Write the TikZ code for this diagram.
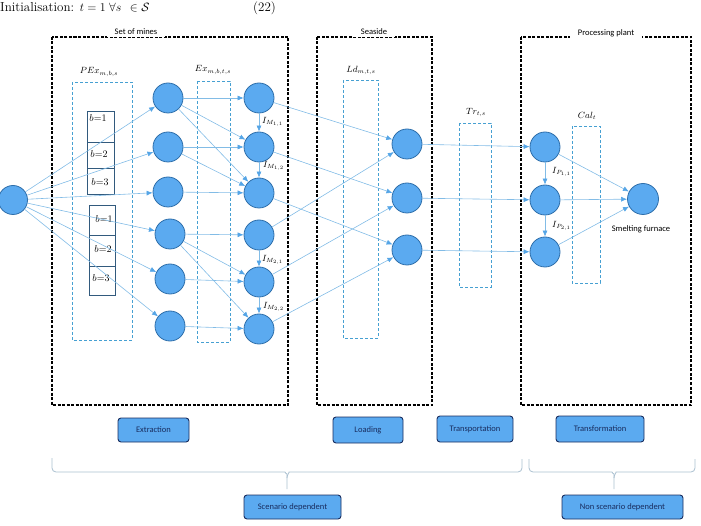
\documentclass[tikz,border=0pt]{standalone}
\usepackage{amsmath,amssymb}
\usepackage{fontspec}
\setsansfont{Carlito}
\usepackage{tikz}
\usetikzlibrary{arrows.meta,positioning}
\definecolor{nodeblue}{RGB}{91,170,240}
\definecolor{nodeedge}{RGB}{46,110,170}
\definecolor{linkblue}{RGB}{130,188,230}
\definecolor{tipblue}{RGB}{85,165,230}
\definecolor{varblue}{RGB}{70,160,210}
\definecolor{navy}{RGB}{25,45,95}
\definecolor{bracegray}{RGB}{170,192,208}
\definecolor{celledge}{RGB}{50,90,125}

\begin{document}
\begin{tikzpicture}[x=1pt,y=-1pt,inner sep=2pt,
        vx/.style={circle,draw=nodeedge,fill=nodeblue,line width=0.8pt,minimum size=30pt,inner sep=0pt},
        ed/.style={draw=linkblue,line width=0.6pt,-{Latex[length=6pt,width=5pt,color=tipblue]}},
        zone/.style={draw=black,line width=1.1pt,dash pattern=on 3pt off 1.5pt},
        varbox/.style={draw=varblue,line width=0.8pt,dash pattern=on 3pt off 2pt},
        zonelbl/.style={fill=white,inner xsep=8pt,font=\sffamily\fontsize{8.5}{10}\selectfont},
        lbl/.style={font=\fontsize{9}{10}\selectfont},
        cell/.style={draw=celledge,line width=0.9pt},
        stage/.style={draw=navy,fill=nodeblue,rounded corners=3pt,line width=0.9pt,text=navy,font=\sffamily\fontsize{8.5}{10}\selectfont},
        bracket/.style={draw=bracegray,line width=0.8pt,rounded corners=4pt}]

        \useasboundingbox (0,0) rectangle (701,526);

        %equation line above the figure
            \draw (0,12) node(eq) [anchor=base west,inner sep=0pt,font=\fontsize{13}{15}\selectfont] {Initialisation: $t = 1\;\forall s\;\,\in \mathcal{S}$};
            \draw (253,12) node(eqno) [anchor=base west,inner sep=0pt,font=\fontsize{13}{15}\selectfont] {(22)};

        %zones
            \draw[zone] (52,37) rectangle (288,405);
            \draw[zone] (317,37) rectangle (432,405);
            \draw[zone] (521,37) rectangle (691,405);
            \draw (136,32) node(mines) [zonelbl] {Set of mines};
            \draw (374,32) node(seaside) [zonelbl] {Seaside};
            \draw (606,33) node(plant) [zonelbl] {Processing plant};

        %decision variables
            \draw[varbox] (72,82) rectangle (132,340);
            \draw[varbox] (197,81) rectangle (230,342);
            \draw[varbox] (343,80) rectangle (378,338);
            \draw[varbox] (459,123) rectangle (491,287);
            \draw[varbox] (572,126) rectangle (600,283);
            \draw (99,72) node(pex) [lbl] {$PEx_{m,b,s}$};
            \draw (213,70) node(ex) [lbl] {$Ex_{m,b,t,s}$};
            \draw (361,70) node(ld) [lbl] {$Ld_{m,t,s}$};
            \draw (476,113) node(tr) [lbl] {$Tr_{t,s}$};
            \draw (587,116) node(cal) [lbl] {$Cal_t$};

        %blocks b of each mine
            \draw[cell] (87,111) rectangle (114,142) (87,142) rectangle (114,168) (87,168) rectangle (114,194);
            \draw[cell] (89,205) rectangle (115,235) (89,235) rectangle (115,266) (89,266) rectangle (115,295);
            \draw (98,118) node(b11) [lbl,font=\fontsize{10}{11}\selectfont] {$b{=}1$}
                  (99,154) node(b12) [lbl,font=\fontsize{10}{11}\selectfont] {$b{=}2$}
                  (100,182) node(b13) [lbl,font=\fontsize{10}{11}\selectfont] {$b{=}3$}
                  (104,219) node(b21) [lbl,font=\fontsize{10}{11}\selectfont] {$b{=}1$}
                  (103,249) node(b22) [lbl,font=\fontsize{10}{11}\selectfont] {$b{=}2$}
                  (101,278) node(b23) [lbl,font=\fontsize{10}{11}\selectfont] {$b{=}3$};

        %network nodes
            \draw (13,200) node(src) [vx,minimum size=29pt] {};
            \draw (168,98) node(u1) [vx] {}
                  (168,147) node(u2) [vx] {}
                  (168,192) node(u3) [vx] {}
                  (170,234) node(u4) [vx] {}
                  (170,279) node(u5) [vx] {}
                  (170,326) node(u6) [vx] {};
            \draw (259,98) node(v1) [vx] {}
                  (259,147) node(v2) [vx] {}
                  (259,193) node(v3) [vx] {}
                  (259,235) node(v4) [vx] {}
                  (259,282) node(v5) [vx] {}
                  (259,329) node(v6) [vx] {};
            \draw (407,144) node(ld1) [vx] {}
                  (407,198) node(ld2) [vx] {}
                  (407,250) node(ld3) [vx] {};
            \draw (545,147) node(pp1) [vx] {}
                  (545,200) node(pp2) [vx] {}
                  (545,252) node(pp3) [vx] {};
            \draw (643,199) node(furn) [vx,minimum size=31pt] {};
            \draw (641,229) node(smelt) [font=\sffamily\fontsize{8.5}{10}\selectfont] {Smelting furnace};

        %flows
            \draw[ed] (src) to (u1);
            \draw[ed] (src) to (u2);
            \draw[ed] (src) to (u3);
            \draw[ed] (src) to (u4);
            \draw[ed] (src) to (u5);
            \draw[ed] (src) to (u6);
            \draw[ed] (u1) to (v1);
            \draw[ed] (u1) to (v2);
            \draw[ed] (u1) to (v3);
            \draw[ed] (u2) to (v2);
            \draw[ed] (u2) to (v3);
            \draw[ed] (u3) to (v3);
            \draw[ed] (u4) to (v4);
            \draw[ed] (u4) to (v5);
            \draw[ed] (u4) to (v6);
            \draw[ed] (u5) to (v5);
            \draw[ed] (u6) to (v6);
            \draw[ed] (v1) to (v2);
            \draw[ed] (v2) to (v3);
            \draw[ed] (v4) to (v5);
            \draw[ed] (v5) to (v6);
            \draw[ed] (v1) to (ld1);
            \draw[ed] (v2) to (ld2);
            \draw[ed] (v3) to (ld3);
            \draw[ed] (v4) to (ld1);
            \draw[ed] (v5) to (ld2);
            \draw[ed] (v6) to (ld3);
            \draw[ed] (ld1) to (pp1);
            \draw[ed] (ld2) to (pp2);
            \draw[ed] (ld3) to (pp3);
            \draw[ed] (pp1) to (pp2);
            \draw[ed] (pp2) to (pp3);
            \draw[ed] (pp1) to (furn);
            \draw[ed] (pp2) to (furn);
            \draw[ed] (pp3) to (furn);

        %inventory labels
            \draw (260,122) node(im11) [lbl,anchor=west] {$I_{M_{1,1}}$}
                  (261,166) node(im12) [lbl,anchor=west] {$I_{M_{1,2}}$}
                  (260,260) node(im21) [lbl,anchor=west] {$I_{M_{2,1}}$}
                  (261,307) node(im22) [lbl,anchor=west] {$I_{M_{2,2}}$}
                  (550,172) node(ip11) [lbl,anchor=west] {$I_{P_{1,1}}$}
                  (550,226) node(ip21) [lbl,anchor=west] {$I_{P_{2,1}}$};

        %stages
            \draw (153.5,430) node(extr) [stage,minimum width=71pt,minimum height=24pt] {Extraction};
            \draw (368,430) node(load) [stage,minimum width=70pt,minimum height=26pt] {Loading};
            \draw (475,429) node(trans) [stage,minimum width=76pt,minimum height=26pt] {Transportation};
            \draw (600,429) node(transf) [stage,minimum width=88pt,minimum height=26pt] {Transformation};
            \draw (292.5,507) node(scen) [stage,minimum width=97pt,minimum height=24pt] {Scenario dependent};
            \draw (622.5,507) node(nscen) [stage,minimum width=121pt,minimum height=24pt] {Non scenario dependent};

        %brackets
            \coordinate (tipl) at (287,489);
            \coordinate (tipr) at (614,489);
            \draw[bracket] (52,458) |- (281,472) to[out=0,in=90] (287,478) -- (tipl);
            \draw[bracket] (522,459) |- (293,472) to[out=180,in=90] (287,478);
            \draw[bracket] (529,459) |- (608,472) to[out=0,in=90] (614,478) -- (tipr);
            \draw[bracket] (695,459) |- (620,472) to[out=180,in=90] (614,478);
\end{tikzpicture}
\end{document}
